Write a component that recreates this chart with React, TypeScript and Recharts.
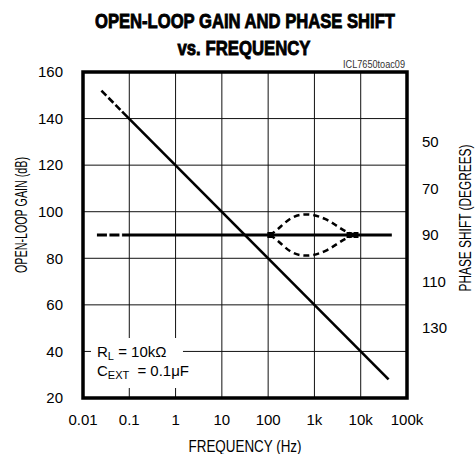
import React from 'react';
import { ComposedChart, Line, XAxis, YAxis, CartesianGrid, ReferenceArea } from 'recharts';

// ---- data ----
const freqTicks = [0.01, 0.1, 1, 10, 100, 1000, 10000, 100000];
const freqLabels = ['0.01', '0.1', '1', '10', '100', '1k', '10k', '100k'];
const gainTicks = [20, 40, 60, 80, 100, 120, 140, 160];
const phaseTicks = [50, 70, 90, 110, 130];

const gainDashed = [
  { f: 0.025, gain: 152 },
  { f: 0.07, gain: 143 },
];
const gainSolid = [
  { f: 0.07, gain: 143 },
  { f: 40000, gain: 28 },
];
const phaseDashed = [
  { f: 0.02, phase: 90 },
  { f: 0.07, phase: 90 },
];
const phaseSolid = [
  { f: 0.07, phase: 90 },
  { f: 47000, phase: 90 },
];
const lensFreq = [109, 163, 296, 486, 655, 929, 1690, 3060, 5040, 7900];
const lensUpper = [90, 87.4, 83.1, 81.4, 81.2, 81.4, 83.1, 86.1, 88.7, 90];
const lensLower = [90, 92.6, 96.9, 98.6, 98.8, 98.6, 96.9, 93.9, 91.3, 90];
const lensEnds = [
  { f: 109, phase: 90 },
  { f: 5600, phase: 90 },
  { f: 7900, phase: 90 },
];

const upperData = lensFreq.map((f, i) => ({ f, phase: lensUpper[i] }));
const lowerData = lensFreq.map((f, i) => ({ f, phase: lensLower[i] }));

const FONT = "'Liberation Sans Narrow', 'Liberation Sans', Arial, sans-serif";
const tickStyle = { fontSize: 15, fontFamily: FONT, fill: '#000' };

const EndMark = (props: any) => {
  const { cx, cy } = props;
  if (cx == null || cy == null) return null;
  return <rect x={cx - 2.5} y={cy - 3} width={5} height={6} fill="#000" />;
};

export default function App() {
  const fmt = (v: number) => {
    const i = freqTicks.findIndex((t) => Math.abs(t - v) / t < 1e-6);
    return i >= 0 ? freqLabels[i] : String(v);
  };
  return (
    <div style={{ position: 'absolute', left: 0, top: 0, width: 475, height: 454, background: '#fff' }}>
      <ComposedChart width={475} height={454} margin={{ top: 72, right: 0, bottom: 0, left: 0 }}>
        <XAxis
          xAxisId={0}
          dataKey="f"
          type="number"
          scale="log"
          domain={[0.01, 100000]}
          ticks={freqTicks}
          tickFormatter={fmt}
          allowDataOverflow
          height={56}
          axisLine={false}
          tickLine={false}
          tickSize={0}
          tickMargin={16}
          tick={tickStyle}
          interval={0}
        />
        <YAxis
          yAxisId="gain"
          orientation="left"
          type="number"
          domain={[20, 160]}
          ticks={gainTicks}
          width={83}
          axisLine={false}
          tickLine={false}
          tickSize={0}
          tickMargin={20}
          tick={tickStyle}
          interval={0}
        />
        <YAxis
          yAxisId="phase"
          orientation="right"
          type="number"
          domain={[20, 160]}
          reversed
          ticks={phaseTicks}
          width={68}
          axisLine={false}
          tickLine={false}
          tickSize={0}
          tickMargin={15}
          tick={{ ...tickStyle, textAnchor: 'start' }}
          interval={0}
        />
        <CartesianGrid xAxisId={0} yAxisId="gain" stroke="#111" strokeWidth={1} />
        <ReferenceArea
          xAxisId={0}
          yAxisId="gain"
          x1={0.0149}
          x2={1.445}
          y1={24.3}
          y2={45.8}
          fill="#fff"
          fillOpacity={1}
          stroke="none"
        />
        <Line xAxisId={0} yAxisId="gain" data={gainDashed} dataKey="gain" type="linear" stroke="#000" strokeWidth={2.6} strokeDasharray="7 3" dot={false} isAnimationActive={false} />
        <Line xAxisId={0} yAxisId="gain" data={gainSolid} dataKey="gain" type="linear" stroke="#000" strokeWidth={2.6} dot={false} isAnimationActive={false} />
        <Line xAxisId={0} yAxisId="phase" data={phaseDashed} dataKey="phase" type="linear" stroke="#000" strokeWidth={2.8} strokeDasharray="10 2.5" dot={false} isAnimationActive={false} />
        <Line xAxisId={0} yAxisId="phase" data={phaseSolid} dataKey="phase" type="linear" stroke="#000" strokeWidth={2.8} dot={false} isAnimationActive={false} />
        <Line xAxisId={0} yAxisId="phase" data={upperData} dataKey="phase" type="natural" stroke="#000" strokeWidth={2.5} strokeDasharray="6 4" dot={false} isAnimationActive={false} />
        <Line xAxisId={0} yAxisId="phase" data={lowerData} dataKey="phase" type="natural" stroke="#000" strokeWidth={2.5} strokeDasharray="6 4" dot={false} isAnimationActive={false} />
        <Line xAxisId={0} yAxisId="phase" data={lensEnds} dataKey="phase" stroke="none" dot={<EndMark />} activeDot={false} isAnimationActive={false} />
        <ReferenceArea
          xAxisId={0}
          yAxisId="gain"
          x1={0.01}
          x2={100000}
          y1={20}
          y2={160}
          fill="none"
          stroke="#000"
          strokeWidth={3.5}
          ifOverflow="visible"
        />
      </ComposedChart>
      <svg
        width={475}
        height={454}
        style={{ position: 'absolute', left: 0, top: 0, pointerEvents: 'none' }}
      >
        <text x={245} y={28} textAnchor="middle" fontFamily={FONT} fontWeight="bold" fontSize={21} stroke="#000" strokeWidth={0.9} textLength={300} lengthAdjust="spacingAndGlyphs">
          OPEN-LOOP GAIN AND PHASE SHIFT
        </text>
        <text x={244} y={55} textAnchor="middle" fontFamily={FONT} fontWeight="bold" fontSize={21} stroke="#000" strokeWidth={0.9} textLength={133} lengthAdjust="spacingAndGlyphs">
          vs. FREQUENCY
        </text>
        <text x={343} y={68} fontFamily={FONT} fontSize={10} fill="#333" textLength={62} lengthAdjust="spacingAndGlyphs">
          ICL7650toac09
        </text>
        <text x={245} y={452} textAnchor="middle" fontFamily={FONT} fontSize={16} textLength={113} lengthAdjust="spacingAndGlyphs">
          FREQUENCY (Hz)
        </text>
        <text transform="translate(27,215) rotate(-90)" textAnchor="middle" fontFamily={FONT} fontSize={16} textLength={116} lengthAdjust="spacingAndGlyphs">
          OPEN-LOOP GAIN (dB)
        </text>
        <text transform="translate(471,218) rotate(-90)" textAnchor="middle" fontFamily={FONT} fontSize={16} textLength={147} lengthAdjust="spacingAndGlyphs">
          PHASE SHIFT (DEGREES)
        </text>
        <text x={97} y={357} fontFamily={FONT} fontSize={15}>
          R<tspan fontSize={11} dy={3}>L</tspan>
          <tspan dy={-3}> = 10kΩ</tspan>
        </text>
        <text x={97} y={376} fontFamily={FONT} fontSize={15}>
          C<tspan fontSize={11} dy={3}>EXT</tspan>
          <tspan dy={-3} dx={4}> = 0.1μF</tspan>
        </text>
      </svg>
    </div>
  );
}
